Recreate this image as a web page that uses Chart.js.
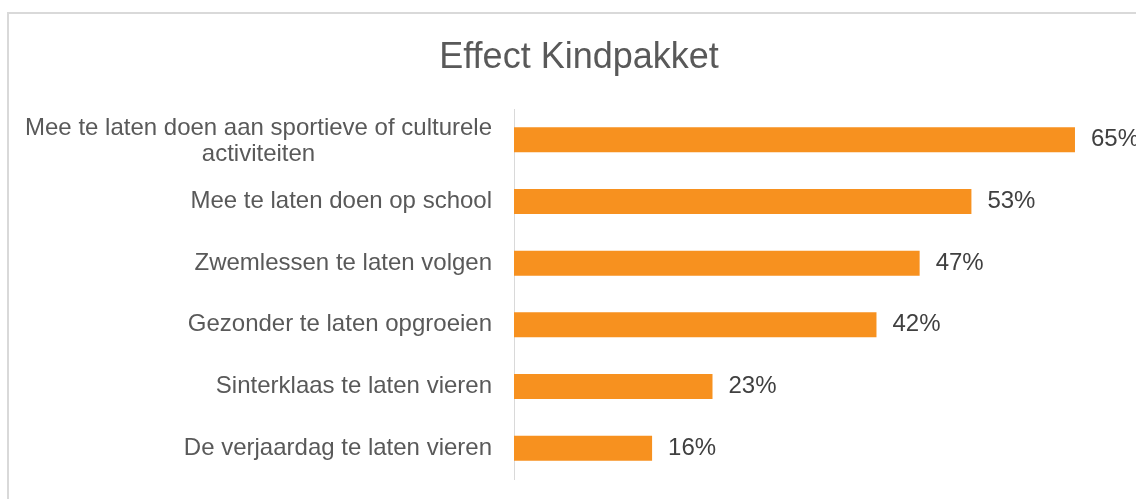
<!DOCTYPE html>
<html>
<head>
<meta charset="utf-8">
<script src="https://cdn.jsdelivr.net/npm/chart.js@4"></script>
<style>
  html, body { margin: 0; padding: 0; background: #fff; overflow: hidden; }
  #wrap { position: relative; width: 1136px; height: 499px; }
  #frame { position: absolute; left: 7px; top: 12px; width: 2000px; height: 1000px; border: 2px solid #d9d9d9; box-sizing: border-box; }
  canvas { position: absolute; left: 0; top: 0; }
</style>
</head>
<body>
<div id="wrap">
  <div id="frame"></div>
  <canvas id="c" width="1136" height="499"></canvas>
</div>
<script>
const titleText = 'Effect Kindpakket';
const categories = [
  ['Mee te laten doen aan sportieve of culturele', 'activiteiten'],
  'Mee te laten doen op school',
  'Zwemlessen te laten volgen',
  'Gezonder te laten opgroeien',
  'Sinterklaas te laten vieren',
  'De verjaardag te laten vieren'
];
const values = [65, 53, 47, 42, 23, 16];

const FONT = '"Liberation Sans", Arial, sans-serif';

const labelPlugin = {
  id: 'labels',
  afterDraw(chart) {
    const ctx = chart.ctx;
    const y = chart.scales.y;
    ctx.save();
    // title
    ctx.font = '36px ' + FONT;
    ctx.fillStyle = '#595959';
    ctx.textBaseline = 'alphabetic';
    ctx.textAlign = 'center';
    ctx.fillText(titleText, 579, 68);

    // category labels
    ctx.font = '24px ' + FONT;
    ctx.fillStyle = '#595959';
    ctx.textBaseline = 'middle';
    const right = 492;
    categories.forEach((lab, i) => {
      const cy = y.getPixelForValue(i);
      const lines = Array.isArray(lab) ? lab : [lab];
      if (lines.length > 1) {
        const maxW = Math.max(...lines.map(l => ctx.measureText(l).width));
        const lh = 26;
        const top = cy - 11;
        ctx.textAlign = 'center';
        lines.forEach((l, j) => ctx.fillText(l, right - maxW / 2, top + j * lh));
      } else {
        ctx.textAlign = 'right';
        ctx.fillText(lines[0], right, cy);
      }
    });
    // value labels
    ctx.font = '24px ' + FONT;
    ctx.fillStyle = '#404040';
    ctx.textAlign = 'left';
    const meta = chart.getDatasetMeta(0);
    meta.data.forEach((bar, i) => {
      ctx.fillText(values[i] + '%', bar.x + 16, bar.y);
    });
    ctx.restore();
  }
};

new Chart(document.getElementById('c'), {
  type: 'bar',
  data: {
    labels: categories,
    datasets: [{
      data: values,
      backgroundColor: '#F7911F',
      borderWidth: 0,
      barPercentage: 0.9,
      categoryPercentage: 0.45
    }]
  },
  options: {
    indexAxis: 'y',
    responsive: false,
    animation: false,
    events: [],
    layout: { padding: { top: 109, bottom: 20, left: 0, right: 0 } },
    plugins: {
      legend: { display: false },
      tooltip: { enabled: false },
      title: { display: false }
    },
    scales: {
      x: {
        display: false,
        min: 0,
        max: 72.07
      },
      y: {
        grid: { display: false, drawTicks: false },
        border: { display: true, color: '#d9d9d9', width: 1 },
        ticks: { display: false },
        afterFit(scale) { scale.width = 514; }
      }
    }
  },
  plugins: [labelPlugin]
});
</script>
</body>
</html>
